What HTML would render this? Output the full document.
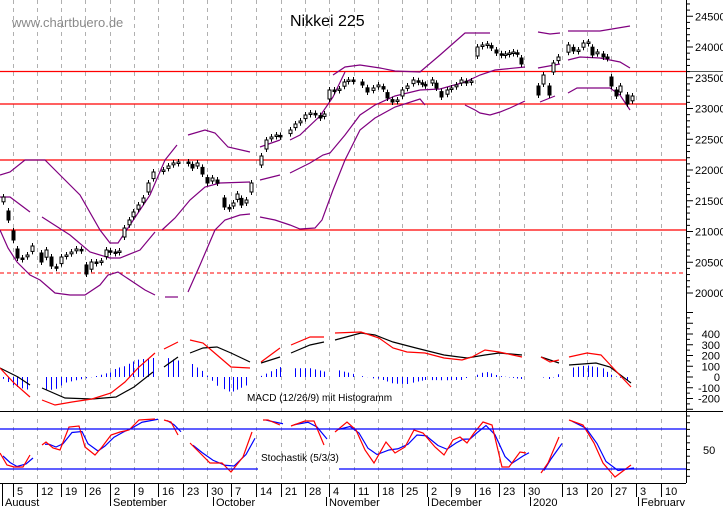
<!DOCTYPE html>
<html><head><meta charset="utf-8"><style>
html,body{margin:0;padding:0;background:#fff}
svg{display:block;font-family:"Liberation Sans",sans-serif}
</style></head><body>
<svg id="s" width="723" height="506" viewBox="0 0 723 506" xmlns="http://www.w3.org/2000/svg">
<rect width="723" height="506" fill="#fff"/>
<g id="grid"></g>
<text x="12" y="27" font-size="13" fill="#8a8a8a">www.chartbuero.de</text>
<text x="290" y="26" font-size="16" fill="#000">Nikkei 225</text>
<line x1="0" y1="71.5" x2="723" y2="71.5" stroke="#555" stroke-width="1"/>
<g stroke="#f00" stroke-width="1.3">
<line x1="0" y1="104" x2="686" y2="104"/>
<line x1="0" y1="160" x2="686" y2="160"/>
<line x1="0" y1="230" x2="686" y2="230"/>
<line x1="0" y1="71.5" x2="686" y2="71.5"/>
<line x1="0" y1="273" x2="686" y2="273" stroke-dasharray="4,3" stroke-width="1"/>
</g>
<g id="bb" fill="none" stroke="#800080" stroke-width="1.2"></g>
<g id="candles"></g>
<g id="macd"></g>
<g id="stoch"></g>
<line x1="0" y1="411.5" x2="723" y2="411.5" stroke="#000"/>
<line x1="0" y1="429" x2="686" y2="429" stroke="#00f" stroke-width="1.3"/>
<line x1="0" y1="469" x2="258" y2="469" stroke="#00f" stroke-width="1.3"/>
<line x1="339" y1="469" x2="686" y2="469" stroke="#00f" stroke-width="1.3"/>
<text x="247" y="401" font-size="10">MACD (12/26/9) mit Histogramm</text>
<text x="261" y="461" font-size="10">Stochastik (5/3/3)</text>
<line x1="686.5" y1="0" x2="686.5" y2="483" stroke="#000"/>
<line x1="0" y1="483.5" x2="686" y2="483.5" stroke="#000"/>
<g id="axis" font-size="11"></g>
<g id="xax" font-size="11"></g>
</svg>
<script>
var NS="http://www.w3.org/2000/svg";
function el(p,t,a,txt){var e=document.createElementNS(NS,t);for(var k in a)e.setAttribute(k,a[k]);if(txt!==undefined)e.textContent=txt;document.getElementById(p).appendChild(e);return e;}
var gx=[13,37,61,85,110,134,158,183,207,231,256,281,305,329,354,378,402,427,451,475,499,524,562,587,611,636,661];
var lab=["5","12","19","26","2","9","16","23","30","7","14","21","28","4","11","18","25","2","9","16","23","30","13","20","27","3","10"];
gx.forEach(function(x,i){
 el("grid","line",{x1:x+.5,y1:0,x2:x+.5,y2:411,stroke:"#b0b0b0","stroke-dasharray":"4,4"});
 el("grid","line",{x1:x+.5,y1:419,x2:x+.5,y2:483,stroke:"#b0b0b0","stroke-dasharray":"4,4"});
 el("xax","line",{x1:x+.5,y1:483,x2:x+.5,y2:497,stroke:"#000"});
 el("xax","text",{x:x+4,y:495},lab[i]);
});
el("xax","line",{x1:2.5,y1:483,x2:2.5,y2:506,stroke:"#000"});
[[2,"August"],[110,"September"],[213,"October"],[326,"November"],[428,"December"],[530,"2020"],[638,"February"]].forEach(function(m){
 el("xax","text",{x:m[0]+3,y:506},m[1]);
 el("xax","line",{x1:m[0]+.5,y1:497,x2:m[0]+.5,y2:506,stroke:"#000"});
});
function py(p){return 293-(p-20000)*0.0615;}
for(var p=20000;p<=24800;p+=100){var y=py(p);el("axis","line",{x1:686,y1:y,x2:(p%500==0?693:690),y2:y,stroke:"#000"});}
for(var p=20000;p<=24500;p+=500){el("axis","text",{x:695,y:py(p)+4},p);}
function my(v){return 377-v*0.1075;}
for(var v=-300;v<=600;v+=50){var y=my(v);el("axis","line",{x1:686,y1:y,x2:(v%100==0?693:690),y2:y,stroke:"#000"});}
for(var v=-200;v<=400;v+=100){el("axis","text",{x:720,y:my(v)+4,"text-anchor":"end"},v);}
for(var y=416;y<=482;y+=6.7){el("axis","line",{x1:686,y1:y,x2:690,y2:y,stroke:"#000"});}
el("axis","text",{x:703,y:454},"50");
var bands=[
[[0,175],[10,172],[25,160],[45,160],[60,175],[80,195],[100,230],[110,243],[118,243],[130,225],[150,195],[165,160],[177,145]],
[[188,135],[205,130],[215,133],[228,147],[250,152]],
[[260,147],[280,140]],[[290,140],[300,135],[320,116],[333,97],[345,72]],
[[333,75],[345,67],[360,65],[380,68],[395,71],[420,72],[440,55],[465,33],[490,33]],
[[538,32],[550,34],[560,33]],[[568,31],[600,31],[630,26]],
[[0,197],[10,197],[30,212]],[[42,217],[70,235],[90,252],[110,258],[120,258],[140,250],[155,232]],
[[162,230],[175,218],[190,200],[205,187],[220,183],[250,182]],[[260,180],[280,175]],
[[290,173],[310,163],[323,155],[330,153],[345,135],[360,115],[375,105],[395,96],[420,90],[440,89],[465,82],[480,75],[495,70],[525,67]],
[[538,68],[560,64]],[[568,60],[580,57],[600,58],[620,62],[630,68]],
[[0,230],[8,248],[17,262],[30,275],[40,280],[55,293],[70,295],[85,295],[100,285],[108,275],[118,272],[130,280],[145,290],[155,295]],
[[165,297],[178,297]],[[188,292],[200,265],[215,230],[225,220],[240,215],[250,214]],
[[260,217],[275,220],[290,225],[300,229],[315,228],[322,220],[333,190],[345,160],[360,130],[375,118],[395,107],[420,99],[425,105]],
[[465,105],[475,110],[480,113],[490,115],[500,112],[510,108],[525,101]],[[540,102],[555,96]],[[568,93],[577,88],[610,88],[620,95],[630,110]]];
bands.forEach(function(b){el("bb","polyline",{points:b.map(function(q){return q.join(",")}).join(" ")});});
var c=[[3,197],[8,220],[13,240],[17,258],[22,258],[27,255],[32,246],[41,262],[46,250],[51,266],[56,268],[61,257],[66,255],[71,252],[76,249],[81,250],[86,274],[91,262],[96,262],[101,261],[106,250],[110,252],[115,252],[119,251],[124,228],[129,220],[133,212],[138,205],[143,198],[148,183],[153,172],[163,170],[168,166],[173,163],[178,162],[188,162],[192,168],[197,163],[202,174],[207,183],[212,178],[217,183],[224,207],[229,208],[233,203],[237,194],[241,205],[246,200],[251,183],[261,156],[266,140],[271,137],[276,135],[280,136],[290,130],[295,124],[300,121],[305,115],[310,113],[315,114],[320,118],[324,114],[329,90],[334,90],[339,89],[344,82],[348,80],[353,80],[362,85],[367,92],[373,88],[378,85],[383,89],[387,98],[392,102],[397,100],[402,90],[407,86],[413,80],[418,82],[422,84],[425,85],[432,80],[436,88],[441,97],[447,90],[451,88],[456,85],[461,80],[466,83],[471,81],[477,47],[482,45],[487,44],[491,48],[496,53],[501,55],[505,54],[509,53],[513,52],[517,54],[521,64],[538,95],[543,75],[549,95],[553,63],[558,57],[568,45],[573,51],[578,50],[583,43],[588,42],[592,55],[597,52],[603,57],[607,57],[611,86],[616,96],[620,86],[627,104],[632,96]];
var prev=c[0][1]+8;
c.forEach(function(d){
 var cl=d[1],diff=prev-cl;
 var o=cl+Math.max(-9,Math.min(9,diff*0.6));
 var top=Math.min(o,cl),h=Math.max(Math.abs(o-cl),1.5),w=cl<o;
 el("candles","line",{x1:d[0]+.5,y1:top-3,x2:d[0]+.5,y2:top+h+3,stroke:"#000"});
 el("candles","rect",{x:d[0]-1,y:top,width:3,height:h,fill:w?"#fff":"#000",stroke:"#000","stroke-width":1});
 prev=cl;
});
var red=[[[0,368],[14,383],[30,397]],[[42,400],[55,405],[72,402],[92,399],[111,393],[125,382],[139,367],[155,353]],[[164,349],[178,342]],[[190,340],[203,343],[217,355],[231,367],[250,368]],[[261,362],[280,348]],[[291,345],[310,337],[324,337]],[[335,333],[361,332],[379,338],[393,348],[407,352],[425,353],[444,358],[462,360],[472,357],[485,350],[499,352],[522,357]],[[541,357],[550,362],[559,360]],[[569,357],[587,353],[601,355],[615,370],[631,387]]];
var blk=[[[0,368],[18,377],[30,385]],[[42,388],[65,398],[92,399],[116,397],[134,387],[153,372]],[[164,367],[178,357]],[[190,353],[203,348],[217,347],[231,353],[250,362]],[[261,363],[280,357]],[[291,353],[310,345],[324,342]],[[335,340],[361,333],[375,335],[393,342],[416,348],[444,355],[467,358],[485,355],[499,353],[522,355]],[[541,357],[559,363]],[[569,365],[596,363],[610,367],[631,383]]];
function interp(segs,x){for(var s=0;s<segs.length;s++){var g=segs[s];if(x>=g[0][0]&&x<=g[g.length-1][0]){for(var i=1;i<g.length;i++){if(x<=g[i][0]){var a=g[i-1],b=g[i];var t=(x-a[0])/((b[0]-a[0])||1);return a[1]+t*(b[1]-a[1]);}}}}return null;}
c.forEach(function(d){
 var r=interp(red,d[0]),b=interp(blk,d[0]);if(r===null||b===null)return;
 var h=(b-r)*1.1;
 el("macd","line",{x1:d[0]+.5,y1:377,x2:d[0]+.5,y2:377-h,stroke:"#00f","stroke-width":1});
});
blk.forEach(function(g){el("macd","polyline",{points:g.map(function(q){return q.join(",")}).join(" "),fill:"none",stroke:"#000","stroke-width":1.2});});
red.forEach(function(g){el("macd","polyline",{points:g.map(function(q){return q.join(",")}).join(" "),fill:"none",stroke:"#f00","stroke-width":1.2});});
var sr=[[[0,453],[7,465],[14,467],[23,467],[30,455]],[[42,445],[46,442],[53,448],[60,450],[69,427],[79,426],[85,447],[95,455],[102,447],[111,435],[120,432],[129,430],[139,420],[155,419]],[[164,420],[171,422],[178,435]],[[190,443],[199,452],[210,463],[222,463],[231,472],[243,457],[252,432]],[[263,420],[268,420],[280,425]],[[291,426],[305,421],[314,421],[324,445]],[[335,432],[347,422],[356,430],[365,450],[374,463],[386,442],[395,453],[405,447],[414,430],[423,433],[435,447],[444,455],[453,440],[460,437],[467,443],[474,433],[483,422],[492,425],[502,467],[509,467],[520,452],[526,453]],[[541,473],[548,463],[559,437]],[[569,420],[583,425],[594,443],[603,463],[615,477],[631,465]]];
sr.forEach(function(g){
 var bl=g.map(function(q,i){var p=g[Math.max(0,i-1)],n=g[Math.min(g.length-1,i+1)];return [q[0]+3,(p[1]+q[1]*2+n[1])/4];});
 el("stoch","polyline",{points:bl.map(function(q){return q.join(",")}).join(" "),fill:"none",stroke:"#00f","stroke-width":1.2});
 el("stoch","polyline",{points:g.map(function(q){return q.join(",")}).join(" "),fill:"none",stroke:"#f00","stroke-width":1.2});
});
</script>
</body></html>
